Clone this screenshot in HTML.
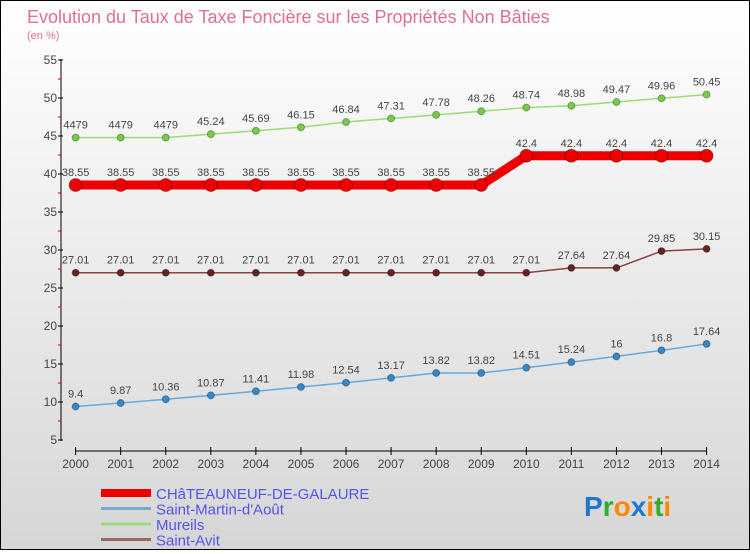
<!DOCTYPE html>
<html><head><meta charset="utf-8"><style>
body{margin:0;width:750px;height:550px;overflow:hidden;font-family:"Liberation Sans",sans-serif}
#wrap{position:relative;width:748px;height:548px;border:1px solid #000;background:linear-gradient(#ffffff,#d6d6d6)}
</style></head><body>
<div id="wrap">
<svg id="chart" width="748" height="548"></svg>
</div>
<script>
const years=[2000,2001,2002,2003,2004,2005,2006,2007,2008,2009,2010,2011,2012,2013,2014];
const chateau=[38.55,38.55,38.55,38.55,38.55,38.55,38.55,38.55,38.55,38.55,42.4,42.4,42.4,42.4,42.4];
const martin=[9.4,9.87,10.36,10.87,11.41,11.98,12.54,13.17,13.82,13.82,14.51,15.24,16,16.8,17.64];
const mureils=[44.79,44.79,44.79,45.24,45.69,46.15,46.84,47.31,47.78,48.26,48.74,48.98,49.47,49.96,50.45];
const avit=[27.01,27.01,27.01,27.01,27.01,27.01,27.01,27.01,27.01,27.01,27.01,27.64,27.64,29.85,30.15];
const martinLbl=["9.4","9.87","10.36","10.87","11.41","11.98","12.54","13.17","13.82","13.82","14.51","15.24","16","16.8","17.64"];
const mureilsLbl=["4479","4479","4479","45.24","45.69","46.15","46.84","47.31","47.78","48.26","48.74","48.98","49.47","49.96","50.45"];
const yTicks=[5,10,15,20,25,30,35,40,45,50,55];
const NS="http://www.w3.org/2000/svg",svg=document.getElementById('chart');
const X=i=>74.6+i*45.07, Y=v=>439-(v-5)*7.6;
function mk(t,a,p){const e=document.createElementNS(NS,t);for(const k in a)e.setAttribute(k,a[k]);(p||svg).appendChild(e);return e;}
function txt(x,y,s,a){const e=mk('text',Object.assign({x:x,y:y,'font-size':11,fill:'#444'},a||{}));e.textContent=s;return e;}
let t=txt(26,22,"Evolution du Taux de Taxe Foncière sur les Propriétés Non Bâties",{'font-size':18,fill:'#e0708a'});

t=txt(26,38,"(en %)",{'font-size':11,fill:'#e0708a'});

let ax=mk('line',{x1:60,y1:58,x2:60,y2:440,stroke:'#000'});

yTicks.forEach(v=>{mk('line',{x1:57,y1:Y(v),x2:62,y2:Y(v),stroke:'#000'});
 if(v<55)mk('line',{x1:57,y1:Y(v+2.5),x2:60,y2:Y(v+2.5),stroke:'#d00'});
 const l=txt(56,Y(v)+4,String(v),{'text-anchor':'end','font-size':12});
 });
ax=mk('line',{x1:X(0),y1:450,x2:X(14),y2:450,stroke:'#000'});

years.forEach((y,i)=>{mk('line',{x1:X(i),y1:446,x2:X(i),y2:454,stroke:'#000'});
 const l=txt(X(i),467,String(y),{'text-anchor':'middle','font-size':12});
 });
function series(vals,lbls,col,dot,w,r,name){
 const g=mk('g',{});
 mk('polyline',{points:vals.map((v,i)=>X(i)+','+Y(v)).join(' '),fill:'none',stroke:col,'stroke-width':w},g);
 vals.forEach((v,i)=>{const c=mk('circle',{cx:X(i),cy:Y(v),r:r,fill:dot,stroke:'rgba(0,0,0,0.3)'},g);
  
  txt(X(i),Y(v)-9,lbls?lbls[i]:String(v),{'text-anchor':'middle','font-size':11,fill:'#444'});});
}
series(mureils,mureilsLbl,'#99dd77','#77cc44',1.5,3.5,'series-mureils');
series(chateau,null,'#ee0000','#ee0000',9,6.5,'series-chateauneuf');
series(avit,null,'#884444','#662222',1.5,3.5,'series-saint-avit');
series(martin,martinLbl,'#66aadd','#3388cc',1.5,3.5,'series-saint-martin');
const leg=[["CHâTEAUNEUF-DE-GALAURE",'#ee0000',8],["Saint-Martin-d'Aoôt".replace('oô','oû'),'#77aacc',3],["Mureils",'#99dd77',3],["Saint-Avit",'#996666',3]];
leg.forEach((l,i)=>{const y=492+i*15.5;const g=mk('g',{});
 mk('line',{x1:100,y1:y,x2:150,y2:y,stroke:l[1],'stroke-width':l[2]},g);
 const tt=txt(155,y+6,l[0],{'font-size':15,fill:'#5555ee'});g.appendChild(tt);});
const lg=txt(583,515,"",{'font-size':28,'font-weight':'bold'});
[["P",'#2277cc'],["r",'#33aa33'],["o",'#ff8800'],["x",'#2277cc'],["i",'#ff8800'],["t",'#33aa33'],["i",'#ff8800']].forEach(c=>{const s=document.createElementNS(NS,'tspan');s.setAttribute('fill',c[1]);s.textContent=c[0];lg.appendChild(s);});
</script>
</body></html>
